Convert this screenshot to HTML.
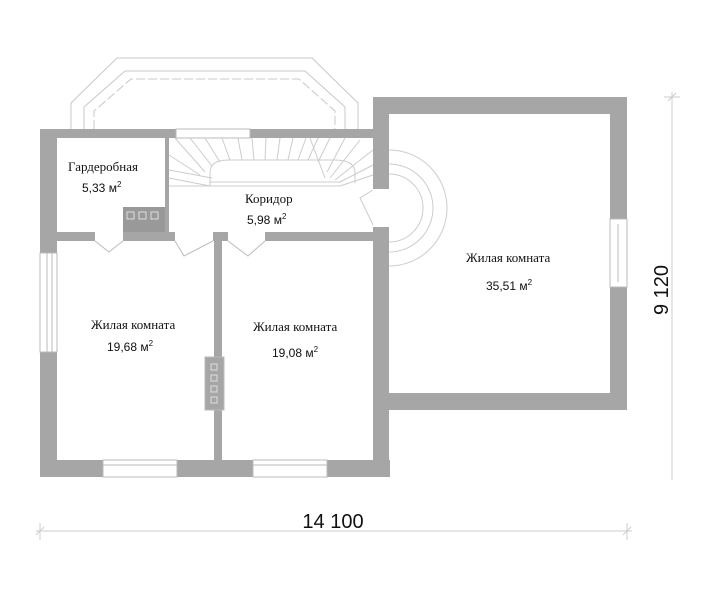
<!DOCTYPE html>
<html><head><meta charset="utf-8"><style>
html,body{margin:0;padding:0;background:#fff}
svg{display:block}
.s{font-family:"Liberation Serif",serif;font-size:13px;fill:#111}
.a{font-family:"Liberation Sans",sans-serif;font-size:12px;fill:#111}
</style></head><body>
<svg width="714" height="600" viewBox="0 0 714 600" xmlns="http://www.w3.org/2000/svg">
<!-- balcony -->
<g fill="none" stroke="#c8c8c8" stroke-width="1">
<polyline points="71,129 71,103 117,58 312,58 358,103 358,129"/>
<polyline points="84,129 84,107 125,71 305,71 345,107 345,129"/>
<polyline points="94,129 94,111 131,79 299,79 335,111 335,129" stroke-dasharray="9,3"/>
</g>
<!-- walls -->
<g fill="#a6a6a6">
<rect x="40" y="129" width="333" height="9"/>
<rect x="40" y="129" width="17" height="348"/>
<rect x="40" y="460" width="350" height="17"/>
<rect x="373" y="97" width="254" height="17"/>
<rect x="373" y="97" width="16" height="92"/>
<rect x="373" y="227" width="16" height="250"/>
<rect x="610" y="97" width="17" height="313"/>
<rect x="373" y="393" width="254" height="17"/>
<rect x="165" y="138" width="4" height="94"/>
<rect x="57" y="232" width="38" height="9"/>
<rect x="123" y="232" width="52" height="9"/>
<rect x="213" y="232" width="15" height="9"/>
<rect x="265" y="232" width="108" height="9"/>
<rect x="214" y="232" width="8" height="228"/>
</g>
<rect x="123" y="207" width="42" height="25" fill="#999"/>
<g fill="none" stroke="#ddd" stroke-width="1"><rect x="127" y="212" width="7" height="7"/><rect x="139" y="212" width="7" height="7"/><rect x="151" y="212" width="7" height="7"/></g>
<rect x="205" y="357" width="19" height="53" fill="#a6a6a6" stroke="#bbb"/>
<g fill="none" stroke="#ddd"><rect x="211" y="364" width="6" height="6"/><rect x="211" y="375" width="6" height="6"/><rect x="211" y="386" width="6" height="6"/><rect x="211" y="397" width="6" height="6"/></g>
<!-- windows -->
<g fill="#fff" stroke="#bbb" stroke-width="1">
<rect x="176" y="129" width="74" height="9"/>
<rect x="40" y="253" width="17" height="99"/>
<rect x="103" y="460" width="74" height="17"/>
<rect x="253" y="460" width="74" height="17"/>
<rect x="610" y="219" width="17" height="68"/>
</g>
<g stroke="#bbb"><line x1="47" y1="253" x2="47" y2="352"/><line x1="52" y1="253" x2="52" y2="352"/><line x1="103" y1="465" x2="177" y2="465"/><line x1="253" y1="465" x2="327" y2="465"/><line x1="618" y1="224" x2="618" y2="282"/></g>
<!-- stairs -->
<g fill="none" stroke="#ccc" stroke-width="1">
<path d="M210,186 L210,173 Q210,160 228,160 L335,160 Q355,160 355,173 L355,183"/>
<line x1="210" y1="182" x2="340" y2="182"/>
<line x1="210" y1="186" x2="210" y2="182"/>
<path d="M169,178 L210,186 M169,170 L212,178 M169,155 L200,175 M175,138 L205,172 M190,138 L212,166 M205,138 L220,162 M222,138 L230,160 M238,138 L242,160 M252,138 L254,160 M266,138 L265,160 M280,138 L277,160 M293,138 L288,160 M306,138 L298,160 M318,138 L308,160 M330,138 L318,162 M310,138 L325,178 M345,138 L327,172 M360,140 L330,178 M373,150 L335,180 M373,165 L340,182 M373,175 L340,186"/>
<line x1="169" y1="186" x2="340" y2="186"/>
<path d="M389,150 A58,58 0 0 1 389,266 M389,164 A44,44 0 0 1 389,252 M389,174 A34,34 0 0 1 389,242"/>
<path d="M373,190 L360,198 L373,225"/>
</g>
<!-- doors -->
<g fill="none" stroke="#bbb">
<path d="M95,241 L109,252 L123,241"/>
<path d="M175,241 L184,256 L213,241"/>
<path d="M228,241 L248,256 L265,241"/>
</g>
<!-- labels -->
<text class="s" x="68" y="171">Гардеробная</text>
<text class="a" x="82" y="192">5,33 м<tspan font-size="8" dy="-5">2</tspan></text>
<text class="s" x="245" y="203">Коридор</text>
<text class="a" x="247" y="224">5,98 м<tspan font-size="8" dy="-5">2</tspan></text>
<text class="s" x="91" y="329">Жилая комната</text>
<text class="a" x="107" y="351">19,68 м<tspan font-size="8" dy="-5">2</tspan></text>
<text class="s" x="253" y="331">Жилая комната</text>
<text class="a" x="272" y="357">19,08 м<tspan font-size="8" dy="-5">2</tspan></text>
<text class="s" x="466" y="262">Жилая комната</text>
<text class="a" x="486" y="290">35,51 м<tspan font-size="8" dy="-5">2</tspan></text>
<!-- dimensions -->
<g stroke="#ccc" fill="none">
<line x1="36" y1="531" x2="632" y2="531"/>
<line x1="40" y1="523" x2="40" y2="540"/><line x1="36" y1="535" x2="44" y2="527"/>
<line x1="627" y1="523" x2="627" y2="540"/><line x1="623" y1="535" x2="631" y2="527"/>
<line x1="672" y1="92" x2="672" y2="480"/>
<line x1="664" y1="97" x2="680" y2="97"/><line x1="668" y1="101" x2="676" y2="93"/>
</g>
<text x="333" y="528" text-anchor="middle" font-family="Liberation Sans,sans-serif" font-size="20" fill="#111">14 100</text>
<text transform="translate(668,290) rotate(-90)" text-anchor="middle" font-family="Liberation Sans,sans-serif" font-size="20" fill="#111">9 120</text>
</svg>
</body></html>
